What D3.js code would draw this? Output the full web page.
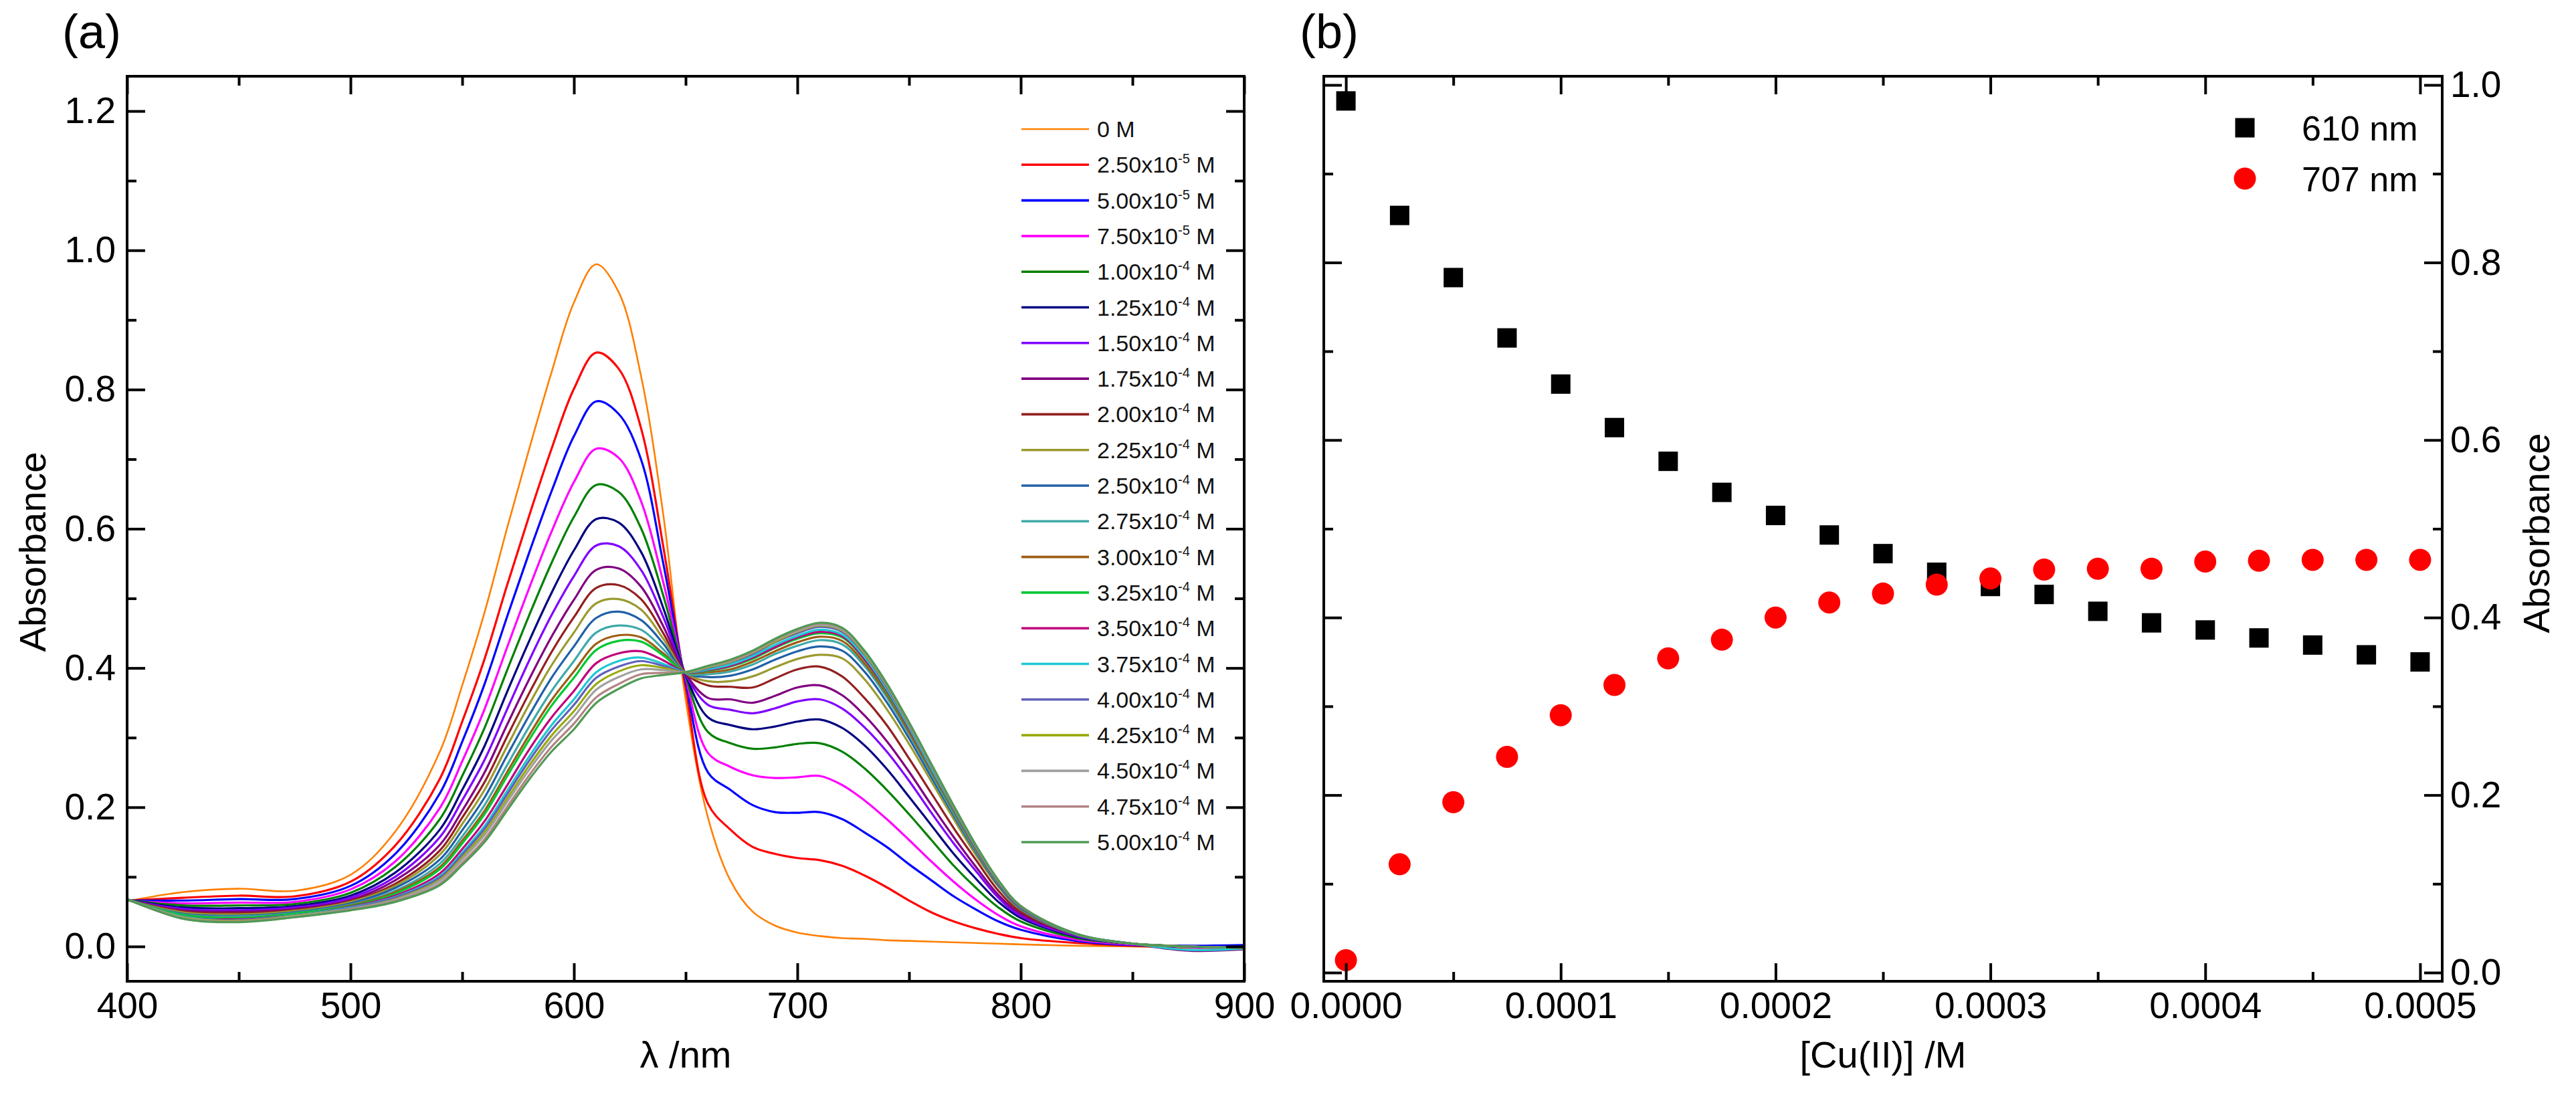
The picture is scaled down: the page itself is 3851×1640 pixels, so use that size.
<!DOCTYPE html>
<html>
<head>
    <meta charset="utf-8">
    <title>Cu(II) titration - UV-vis spectra and absorbance at 610 / 707 nm</title>
    <style>
        body { margin: 0; background: #fff; }
        text { font-family: 'Liberation Sans', Arial, sans-serif; }
    </style>
</head>
<body>
<div id="chart"></div>
<script src="https://cdn.jsdelivr.net/npm/d3@7"></script>
<script>
    (function(d3) {
        'use strict';

        // ---- panel (a): spectra at these wavelengths (nm)
        var wavelength = [400,425,450,475,500,520,540,550,560,570,580,590,600,610,620,630,640,650,
                          660,670,680,690,700,710,720,730,740,750,760,770,780,790,800,825,850,875,900];

        var abs00 = [0.065,0.078,0.083,0.080,0.103,0.165,0.280,0.375,0.480,0.600,0.715,0.825,0.925,0.980,0.940,0.820,0.620,0.355, 0.185,0.095,0.050,0.030,0.020,0.015,0.012,0.011,0.009,0.008,0.007,0.006,0.005,0.004,0.003,0.001,0.000,-0.002,-0.003];
        var abs01 = [0.066,0.070,0.073,0.072,0.093,0.145,0.241,0.323,0.413,0.518,0.619,0.715,0.801,0.853,0.830,0.745,0.574,0.372, 0.205,0.168,0.143,0.133,0.127,0.124,0.116,0.102,0.085,0.066,0.049,0.036,0.026,0.018,0.012,0.005,0.001,-0.001,-0.002];
        var abs02 = [0.066,0.066,0.068,0.068,0.087,0.133,0.220,0.294,0.377,0.473,0.566,0.654,0.733,0.783,0.765,0.700,0.550,0.380, 0.250,0.225,0.203,0.193,0.192,0.193,0.183,0.164,0.143,0.118,0.095,0.072,0.053,0.036,0.024,0.008,0.002,0.001,0.002];
        var abs03 = [0.066,0.062,0.063,0.064,0.082,0.122,0.199,0.266,0.341,0.429,0.515,0.596,0.667,0.715,0.702,0.640,0.523,0.385, 0.278,0.258,0.246,0.242,0.243,0.245,0.232,0.210,0.183,0.153,0.122,0.093,0.067,0.045,0.029,0.010,0.003,0.000,-0.002];
        var abs04 = [0.067,0.059,0.059,0.061,0.077,0.114,0.183,0.245,0.314,0.396,0.476,0.551,0.617,0.663,0.653,0.601,0.504,0.388, 0.308,0.292,0.284,0.286,0.291,0.292,0.280,0.256,0.225,0.190,0.153,0.116,0.084,0.056,0.036,0.012,0.004,0.000,-0.002];
        var abs05 = [0.067,0.056,0.055,0.058,0.073,0.106,0.168,0.225,0.288,0.365,0.439,0.508,0.569,0.614,0.609,0.567,0.486,0.390, 0.329,0.318,0.312,0.316,0.323,0.326,0.314,0.289,0.255,0.215,0.174,0.133,0.097,0.064,0.041,0.014,0.004,0.000,-0.002];
        var abs06 = [0.067,0.054,0.052,0.056,0.070,0.100,0.157,0.210,0.268,0.340,0.411,0.476,0.532,0.576,0.575,0.541,0.473,0.391, 0.347,0.340,0.335,0.342,0.352,0.355,0.342,0.315,0.280,0.238,0.192,0.148,0.108,0.070,0.044,0.015,0.004,-0.001,-0.002];
        var abs07 = [0.067,0.052,0.050,0.054,0.067,0.095,0.146,0.195,0.250,0.318,0.384,0.445,0.498,0.541,0.543,0.517,0.460,0.392, 0.357,0.355,0.350,0.360,0.372,0.375,0.361,0.332,0.295,0.251,0.203,0.157,0.114,0.074,0.047,0.016,0.004,-0.006,-0.004];
        var abs08 = [0.067,0.050,0.048,0.052,0.065,0.090,0.138,0.185,0.236,0.301,0.364,0.423,0.473,0.515,0.519,0.499,0.450,0.392, 0.375,0.373,0.372,0.385,0.398,0.402,0.388,0.357,0.318,0.270,0.220,0.170,0.124,0.080,0.050,0.017,0.004,0.000,-0.002];
        var abs09 = [0.067,0.049,0.046,0.051,0.064,0.087,0.132,0.176,0.225,0.287,0.348,0.404,0.451,0.493,0.499,0.484,0.442,0.393, 0.381,0.381,0.388,0.401,0.413,0.419,0.414,0.384,0.341,0.291,0.237,0.183,0.131,0.086,0.053,0.017,0.004,0.000,-0.002];
        var abs10 = [0.067,0.047,0.044,0.049,0.062,0.084,0.125,0.167,0.214,0.274,0.332,0.386,0.431,0.472,0.481,0.469,0.435,0.393, 0.387,0.389,0.398,0.412,0.424,0.431,0.425,0.395,0.351,0.299,0.243,0.188,0.135,0.088,0.054,0.017,0.004,0.000,-0.002];
        var abs11 = [0.068,0.046,0.043,0.048,0.060,0.080,0.119,0.158,0.203,0.260,0.316,0.367,0.410,0.451,0.461,0.455,0.427,0.393, 0.391,0.395,0.405,0.420,0.432,0.440,0.434,0.403,0.358,0.305,0.248,0.191,0.137,0.090,0.055,0.017,0.004,0.000,-0.002];
        var abs12 = [0.068,0.045,0.041,0.047,0.059,0.078,0.114,0.152,0.195,0.250,0.304,0.354,0.395,0.435,0.447,0.444,0.421,0.394, 0.394,0.398,0.409,0.424,0.437,0.445,0.439,0.407,0.362,0.308,0.251,0.194,0.139,0.091,0.056,0.018,0.004,0.000,-0.002];
        var abs13 = [0.068,0.045,0.041,0.047,0.058,0.076,0.111,0.148,0.190,0.244,0.297,0.346,0.386,0.426,0.439,0.438,0.418,0.394, 0.396,0.402,0.413,0.429,0.442,0.450,0.444,0.412,0.366,0.312,0.254,0.196,0.141,0.092,0.056,0.018,0.004,0.000,-0.002];
        var abs14 = [0.068,0.043,0.039,0.045,0.057,0.073,0.105,0.140,0.180,0.231,0.283,0.329,0.367,0.407,0.421,0.424,0.411,0.394, 0.397,0.403,0.415,0.430,0.444,0.452,0.446,0.413,0.368,0.313,0.255,0.197,0.141,0.092,0.056,0.018,0.004,0.000,-0.002];
        var abs15 = [0.068,0.043,0.038,0.045,0.056,0.071,0.101,0.135,0.173,0.223,0.273,0.318,0.355,0.394,0.410,0.415,0.406,0.394, 0.398,0.405,0.417,0.433,0.446,0.455,0.448,0.416,0.370,0.315,0.256,0.198,0.142,0.093,0.057,0.018,0.004,-0.005,-0.003];
        var abs16 = [0.068,0.042,0.038,0.044,0.055,0.070,0.099,0.132,0.169,0.218,0.267,0.311,0.347,0.386,0.402,0.410,0.403,0.394, 0.400,0.408,0.420,0.437,0.450,0.459,0.452,0.420,0.373,0.318,0.259,0.199,0.143,0.094,0.057,0.018,0.004,0.000,-0.002];
        var abs17 = [0.068,0.042,0.037,0.044,0.054,0.068,0.096,0.128,0.164,0.212,0.260,0.303,0.338,0.377,0.395,0.404,0.400,0.394, 0.401,0.409,0.422,0.438,0.452,0.461,0.454,0.421,0.375,0.319,0.260,0.200,0.144,0.094,0.058,0.018,0.004,0.000,-0.002];
        var abs18 = [0.068,0.041,0.036,0.043,0.054,0.067,0.094,0.125,0.160,0.207,0.254,0.296,0.330,0.369,0.387,0.398,0.397,0.394, 0.402,0.410,0.423,0.440,0.453,0.462,0.455,0.423,0.376,0.320,0.260,0.201,0.144,0.094,0.058,0.018,0.004,0.000,-0.002];
        var abs19 = [0.068,0.040,0.036,0.042,0.053,0.065,0.090,0.120,0.154,0.200,0.246,0.287,0.320,0.358,0.377,0.391,0.393,0.394, 0.403,0.411,0.424,0.441,0.455,0.464,0.457,0.424,0.377,0.321,0.261,0.202,0.145,0.095,0.058,0.018,0.004,0.000,-0.002];
        var abs20 = [0.068,0.040,0.035,0.042,0.052,0.064,0.088,0.117,0.150,0.195,0.240,0.280,0.312,0.350,0.370,0.385,0.390,0.394, 0.403,0.412,0.425,0.442,0.456,0.465,0.458,0.425,0.378,0.322,0.262,0.202,0.145,0.095,0.058,0.018,0.004,0.000,-0.002];

        var spectra = [abs00, abs01, abs02, abs03, abs04, abs05, abs06, abs07, abs08, abs09, abs10,
                       abs11, abs12, abs13, abs14, abs15, abs16, abs17, abs18, abs19, abs20];

        // legend labels: mantissa + power of ten
        var concMantissa = ['0', '2.50', '5.00', '7.50', '1.00', '1.25', '1.50', '1.75', '2.00', '2.25', '2.50',
                            '2.75', '3.00', '3.25', '3.50', '3.75', '4.00', '4.25', '4.50', '4.75', '5.00'];
        var concExponent = ['', '-5', '-5', '-5', '-4', '-4', '-4', '-4', '-4', '-4', '-4',
                            '-4', '-4', '-4', '-4', '-4', '-4', '-4', '-4', '-4', '-4'];

        var lineColors = ['#ff7f00', '#ff0000', '#0000ff', '#ff00ff', '#008000', '#000080', '#8000ff', '#800080',
                          '#931f1f', '#9a9a30', '#2060a8', '#3fa9a9', '#9e5c14', '#00c832', '#c0007a', '#1ec8d2',
                          '#6060bb', '#99aa11', '#a0a0a0', '#b38383', '#4f9a55'];

        // ---- panel (b): absorbance vs [Cu(II)]
        var cuConc = [0, 0.000025, 0.00005, 0.000075, 0.0001, 0.000125, 0.00015, 0.000175, 0.0002, 0.000225,
                      0.00025, 0.000275, 0.0003, 0.000325, 0.00035, 0.000375, 0.0004, 0.000425, 0.00045, 0.000475, 0.0005];
        var abs610 = [0.982, 0.853, 0.783, 0.715, 0.663, 0.614, 0.576, 0.541, 0.515, 0.493,
                      0.472, 0.451, 0.435, 0.426, 0.407, 0.394, 0.386, 0.377, 0.369, 0.358, 0.350];
        var abs707 = [0.014, 0.122, 0.192, 0.243, 0.290, 0.324, 0.354, 0.375, 0.400, 0.417,
                      0.427, 0.437, 0.444, 0.454, 0.455, 0.455, 0.463, 0.464, 0.465, 0.465, 0.465];

        // tick values
        var aXMajor = [400, 500, 600, 700, 800, 900];
        var aXMinor = [450, 550, 650, 750, 850];
        var aYMajor = [0, 0.2, 0.4, 0.6, 0.8, 1.0, 1.2];
        var aYMinor = [0.1, 0.3, 0.5, 0.7, 0.9, 1.1];
        var bXMajor = [0, 0.0001, 0.0002, 0.0003, 0.0004, 0.0005];
        var bXMinor = [0.00005, 0.00015, 0.00025, 0.00035, 0.00045];
        var bYMajor = [0, 0.2, 0.4, 0.6, 0.8, 1.0];
        var bYMinor = [0.1, 0.3, 0.5, 0.7, 0.9];

        var width = 3851;
        var height = 1640;
        var FONT = "'Liberation Sans', Arial, sans-serif";
        var majorLen = 27, minorLen = 14;
        var noLabel = function() { return ''; };

        var svg = d3.select('#chart')
            .append('svg')
            .attr('width', width)
            .attr('height', height)
            .style('display', 'block');

        var xa = d3.scaleLinear().domain([400, 900]).range([190, 1860]);
        var ya = d3.scaleLinear().domain([-0.05, 1.25]).range([1467, 114]);
        var xb = d3.scaleLinear().domain([-0.0000103, 0.0005103]).range([1979, 3651]);
        var yb = d3.scaleLinear().domain([-0.0098, 1.0098]).range([1467, 114]);

        function addAxis(axisFn, scale, values, fmt, size, tx, ty, pad) {
            var g = svg.append('g')
                .attr('transform', 'translate(' + tx + ',' + ty + ')')
                .call(axisFn(scale)
                    .tickValues(values)
                    .tickFormat(fmt)
                    .tickSizeInner(-size)
                    .tickSizeOuter(0)
                    .tickPadding(pad));
            g.select('.domain').remove();
            g.selectAll('line').attr('stroke', '#000').attr('stroke-width', 4);
            g.selectAll('text')
                .attr('fill', '#000')
                .style('font-size', '55px')
                .style('font-family', FONT);
            return g;
        }

        function frame(x, y, xMaj, xMin, yMaj, yMin, xFmt, yFmt, yLabelsRight) {
            var x0 = x.range()[0], x1 = x.range()[1];
            var y0 = y.range()[0], y1 = y.range()[1];
            addAxis(d3.axisBottom, x, xMaj, xFmt, majorLen, 0, y0, 16);
            addAxis(d3.axisBottom, x, xMin, noLabel, minorLen, 0, y0, 0);
            addAxis(d3.axisTop, x, xMaj, noLabel, majorLen, 0, y1, 0);
            addAxis(d3.axisTop, x, xMin, noLabel, minorLen, 0, y1, 0);
            addAxis(d3.axisLeft, y, yMaj, yLabelsRight ? noLabel : yFmt, majorLen, x0, 0, 17);
            addAxis(d3.axisLeft, y, yMin, noLabel, minorLen, x0, 0, 0);
            addAxis(d3.axisRight, y, yMaj, yLabelsRight ? yFmt : noLabel, majorLen, x1, 0, 12);
            addAxis(d3.axisRight, y, yMin, noLabel, minorLen, x1, 0, 0);
            svg.append('rect')
                .attr('x', x0)
                .attr('y', y1)
                .attr('width', x1 - x0)
                .attr('height', y0 - y1)
                .attr('fill', 'none')
                .attr('stroke', '#000')
                .attr('stroke-width', 4);
        }

        // ---------- panel (a)
        var line = d3.line()
            .x(function(d) { return xa(d[0]); })
            .y(function(d) { return ya(d[1]); })
            .curve(d3.curveCatmullRom.alpha(0.5));

        svg.append('g')
            .selectAll('path')
            .data(spectra)
            .enter()
            .append('path')
            .attr('d', function(s) { return line(d3.zip(wavelength, s)); })
            .attr('fill', 'none')
            .attr('stroke', function(s, i) { return lineColors[i]; })
            .attr('stroke-width', function(s, i) { return i === 0 ? 2.6 : 3.2; })
            .attr('stroke-linejoin', 'round');

        frame(xa, ya, aXMajor, aXMinor, aYMajor, aYMinor, d3.format('d'), d3.format('.1f'), false);

        // legend, one row per concentration
        var legend = svg.selectAll('.legend')
            .data(concMantissa)
            .enter()
            .append('g')
            .attr('class', 'legend')
            .attr('transform', function(d, i) {
                return 'translate(1527,' + (193 + i * 53.3) + ')';
            });

        legend.append('line')
            .attr('x1', 0)
            .attr('x2', 101)
            .attr('stroke', function(d, i) { return lineColors[i]; })
            .attr('stroke-width', function(d, i) { return i === 0 ? 2.6 : 3.6; });

        var ltext = legend.append('text')
            .attr('x', 113)
            .attr('y', 12)
            .attr('fill', '#111')
            .style('font-size', '34px');
        ltext.each(function(d, i) {
            var t = d3.select(this);
            if (concExponent[i] === '') {
                t.text(d + ' M');
                return;
            }
            t.append('tspan').text(d + 'x10');
            t.append('tspan').attr('dy', -14).style('font-size', '20px').text(concExponent[i]);
            t.append('tspan').attr('dy', 14).text(' M');
        });

        // ---------- panel (b)
        var pts610 = d3.zip(cuConc, abs610);
        var pts707 = d3.zip(cuConc, abs707);

        svg.append('g')
            .selectAll('rect')
            .data(pts610)
            .enter()
            .append('rect')
            .attr('x', function(d) { return xb(d[0]) - 14.5; })
            .attr('y', function(d) { return yb(d[1]) - 14.5; })
            .attr('width', 29)
            .attr('height', 29)
            .attr('fill', '#000');

        svg.append('g')
            .selectAll('circle')
            .data(pts707)
            .enter()
            .append('circle')
            .attr('cx', function(d) { return xb(d[0]); })
            .attr('cy', function(d) { return yb(d[1]); })
            .attr('r', 16.5)
            .attr('fill', '#ff0000');

        frame(xb, yb, bXMajor, bXMinor, bYMajor, bYMinor, d3.format('.4f'), d3.format('.1f'), true);

        // legend (b)
        svg.append('rect')
            .attr('x', 3356 - 14.5).attr('y', 191 - 14.5)
            .attr('width', 29).attr('height', 29)
            .attr('fill', '#000');
        svg.append('circle')
            .attr('cx', 3356).attr('cy', 267).attr('r', 16.5)
            .attr('fill', '#ff0000');
        svg.append('text')
            .attr('x', 3441).attr('y', 210)
            .style('font-size', '52px')
            .text('610 nm');
        svg.append('text')
            .attr('x', 3441).attr('y', 286)
            .style('font-size', '52px')
            .text('707 nm');

        // ---------- titles
        function title(txt, x, y, size, rotate, anchor) {
            return svg.append('text')
                .attr('transform', 'translate(' + x + ',' + y + ')' + (rotate ? ' rotate(-90)' : ''))
                .attr('text-anchor', anchor || 'middle')
                .attr('fill', '#000')
                .style('font-size', size + 'px')
                .text(txt);
        }

        title('(a)', 93, 72, 72, false, 'start');
        title('(b)', 1943, 72, 72, false, 'start');
        title('\u03bb /nm', 1025, 1596, 56);
        title('[Cu(II)] /M', 2815, 1596, 56);
        title('Absorbance', 68, 825, 56, true);
        title('Absorbance', 3811, 797, 56, true);
    })(window.d3);
</script>
</body>
</html>
